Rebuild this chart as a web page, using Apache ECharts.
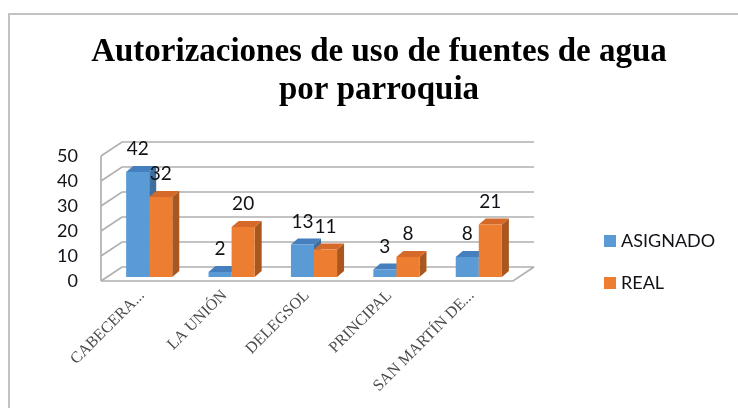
<!DOCTYPE html>
<html>
<head>
<meta charset="utf-8">
<script src="https://cdn.jsdelivr.net/npm/echarts@6/dist/echarts.min.js"></script>
<style>
  html, body { margin: 0; padding: 0; background: #fff; }
  #chart { width: 738px; height: 408px; }
</style>
</head>
<body>
<div id="chart"></div>
<script>
// 数据
var categories = ['CABECERA...', 'LA UNIÓN', 'DELEGSOL', 'PRINCIPAL', 'SAN MARTÍN DE...']
var asignado = [42, 2, 13, 3, 8]
var real = [32, 20, 11, 8, 21]
var yTicks = [0, 10, 20, 30, 40, 50]

// 3D 偏移
var WALL_DX = 21, WALL_DY = -14
var BAR_DX = 7, BAR_DY = -4
var DEPTH_DX = 7, DEPTH_DY = -6

var colors = {
  ASIGNADO: { front: '#5b9bd5', top: '#467fbd', side: '#3f6f9e' },
  REAL: { front: '#ed7d31', top: '#d4692a', side: '#a9561f' }
}

// 背景墙和网格线
function renderWalls(params, api) {
  var cs = params.coordSys
  var y = api.coord([0, api.value(0)])[1]
  var lineStyle = { stroke: '#b0b0b0', lineWidth: 1.7, fill: null }
  var children = [{
    type: 'polyline',
    shape: { points: [[cs.x, y], [cs.x + WALL_DX, y + WALL_DY], [cs.x + cs.width + WALL_DX, y + WALL_DY]] },
    style: lineStyle
  }]
  if (api.value(0) === 0) {
    children.push({
      type: 'polyline',
      shape: { points: [[cs.x, y], [cs.x + cs.width, y], [cs.x + cs.width + WALL_DX, y + WALL_DY]] },
      style: lineStyle
    })
    children.push({
      type: 'line',
      shape: { x1: cs.x, y1: cs.y, x2: cs.x, y2: cs.y + cs.height },
      style: lineStyle
    })
  }
  return { type: 'group', children: children }
}

// 3D 柱子
function makeBarRender(name, side) {
  var c = colors[name]
  return function (params, api) {
    var idx = api.value(0)
    var val = api.value(1)
    var top = api.coord([idx, val])
    var base = api.coord([idx, 0])
    var band = api.size([1, 0])[0]
    var w = band * 0.28
    var x0 = top[0] + BAR_DX + (side < 0 ? -w : 0)
    var yt = top[1] + BAR_DY
    var yb = base[1] + BAR_DY
    return {
      type: 'group',
      children: [{
        type: 'polygon',
        shape: { points: [[x0 + w, yt], [x0 + w + DEPTH_DX, yt + DEPTH_DY], [x0 + w + DEPTH_DX, yb + DEPTH_DY], [x0 + w, yb]] },
        style: { fill: c.side }
      }, {
        type: 'polygon',
        shape: { points: [[x0, yt], [x0 + w, yt], [x0 + w + DEPTH_DX, yt + DEPTH_DY], [x0 + DEPTH_DX, yt + DEPTH_DY]] },
        style: { fill: c.top }
      }, {
        type: 'rect',
        shape: { x: x0, y: yt, width: w, height: yb - yt },
        style: { fill: c.front }
      }, {
        type: 'text',
        x: x0 + w / 2,
        y: yt - 23,
        style: {
          text: String(val),
          fill: '#111118',
          font: '19px Lato',
          align: 'center',
          verticalAlign: 'middle'
        }
      }]
    }
  }
}

var myChart = echarts.init(document.getElementById('chart'))
var option = {
  animation: false,
  graphic: [{
    type: 'rect',
    shape: { x: 9, y: 14, width: 900, height: 600 },
    style: { fill: null, stroke: '#c3c3c3', lineWidth: 2 }
  }, {
    type: 'text',
    x: 379,
    y: 33,
    style: {
      text: 'Autorizaciones de uso de fuentes de agua\npor parroquia',
      font: 'bold 33px "Liberation Serif"',
      lineHeight: 38,
      fill: '#000',
      align: 'center'
    }
  }],
  legend: {
    orient: 'vertical',
    left: 604,
    top: 231,
    padding: 0,
    itemWidth: 12,
    itemHeight: 12,
    itemGap: 22,
    icon: 'rect',
    textStyle: { fontFamily: 'Lato', fontSize: 18, color: '#111118', lineHeight: 20 },
    data: ['ASIGNADO', 'REAL']
  },
  grid: { left: 101, right: 225, top: 156, bottom: 127 },
  xAxis: {
    type: 'category',
    data: categories,
    axisLine: { show: false },
    axisTick: { show: false },
    axisLabel: {
      interval: 0,
      rotate: 45,
      margin: 12,
      fontFamily: 'Liberation Serif',
      fontSize: 16,
      color: '#4a4a4a'
    }
  },
  yAxis: {
    type: 'value',
    min: 0,
    max: 50,
    interval: 10,
    axisLine: { show: false },
    axisTick: { show: false },
    splitLine: { show: false },
    axisLabel: { margin: 23, fontFamily: 'Lato', fontSize: 18, color: '#111118' }
  },
  series: [{
    type: 'custom',
    name: 'walls',
    silent: true,
    renderItem: renderWalls,
    data: yTicks.map(function (v) { return [v] }),
    encode: { y: 0 },
    z: 1
  }, {
    type: 'custom',
    name: 'ASIGNADO',
    itemStyle: { color: colors.ASIGNADO.front },
    renderItem: makeBarRender('ASIGNADO', -1),
    data: asignado.map(function (v, i) { return [i, v] }),
    encode: { x: 0, y: 1 },
    z: 2
  }, {
    type: 'custom',
    name: 'REAL',
    itemStyle: { color: colors.REAL.front },
    renderItem: makeBarRender('REAL', 1),
    data: real.map(function (v, i) { return [i, v] }),
    encode: { x: 0, y: 1 },
    z: 3
  }]
}
myChart.setOption(option)
</script>
</body>
</html>
